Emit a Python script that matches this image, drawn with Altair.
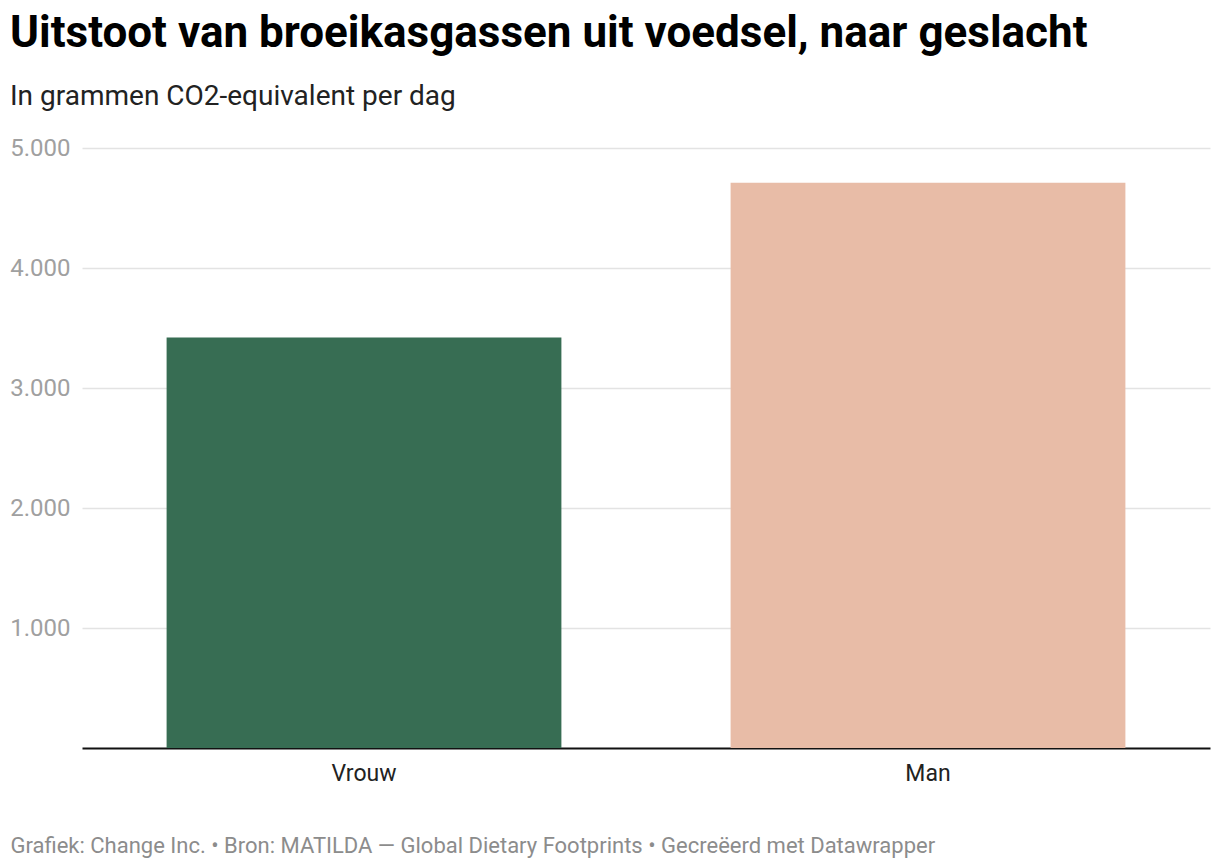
import altair as alt
import pandas as pd

categories = ["Vrouw", "Man"]
values = [3420, 4710]
colors = ["#376d53", "#e8bca7"]

df = pd.DataFrame({"geslacht": categories, "waarde": values})

FONT = "Roboto"

bars = alt.Chart(df).mark_bar().encode(
    x=alt.X("geslacht:N", sort=categories,
            scale=alt.Scale(paddingInner=0.3, paddingOuter=0.15),
            axis=alt.Axis(
                title="Grafiek: Change Inc. • Bron: MATILDA — Global Dietary Footprints • Gecreëerd met Datawrapper",
                titleFont=FONT, titleFontSize=22, titleFontWeight="normal", titleColor="#8c8c8c",
                titleAnchor="start", titleAlign="left", titleBaseline="alphabetic",
                titleX=-72, titleY=104,
                labelFont=FONT, labelFontSize=23, labelColor="#222222", labelAngle=0,
                labelPadding=14, ticks=False, domain=True, domainColor="#111111", domainWidth=2,
            )),
    y=alt.Y("waarde:Q", scale=alt.Scale(domain=[0, 5000]),
            axis=alt.Axis(
                title=None, values=[1000, 2000, 3000, 4000, 5000],
                labelExpr="replace(format(datum.value, ',d'), ',', '.')",
                labelFont=FONT, labelFontSize=24, labelColor="#a0a0a0",
                labelPadding=12, ticks=False, domain=False,
                grid=True, gridColor="#e3e3e3", gridWidth=1.5,
            )),
    color=alt.Color("geslacht:N", scale=alt.Scale(domain=categories, range=colors), legend=None),
)

chart = bars.properties(
    width=1128, height=600,
    autosize=alt.AutoSizeParams(type="none"),
    padding={"left": 74, "top": 140, "right": 2, "bottom": 118},
    title=alt.TitleParams(
        text="Uitstoot van broeikasgassen uit voedsel, naar geslacht",
        subtitle="In grammen CO2-equivalent per dag",
        anchor="start", frame="group", dx=-72,
        font=FONT, fontSize=44, fontWeight="bold", color="#000000",
        subtitleFont=FONT, subtitleFontSize=28, subtitleColor="#222222",
        subtitlePadding=14, offset=-10, baseline="alphabetic",
    ),
).configure(background="white").configure_view(stroke="transparent", strokeWidth=0)

chart.save("out.html", embed_options={"renderer": "svg", "actions": False})
